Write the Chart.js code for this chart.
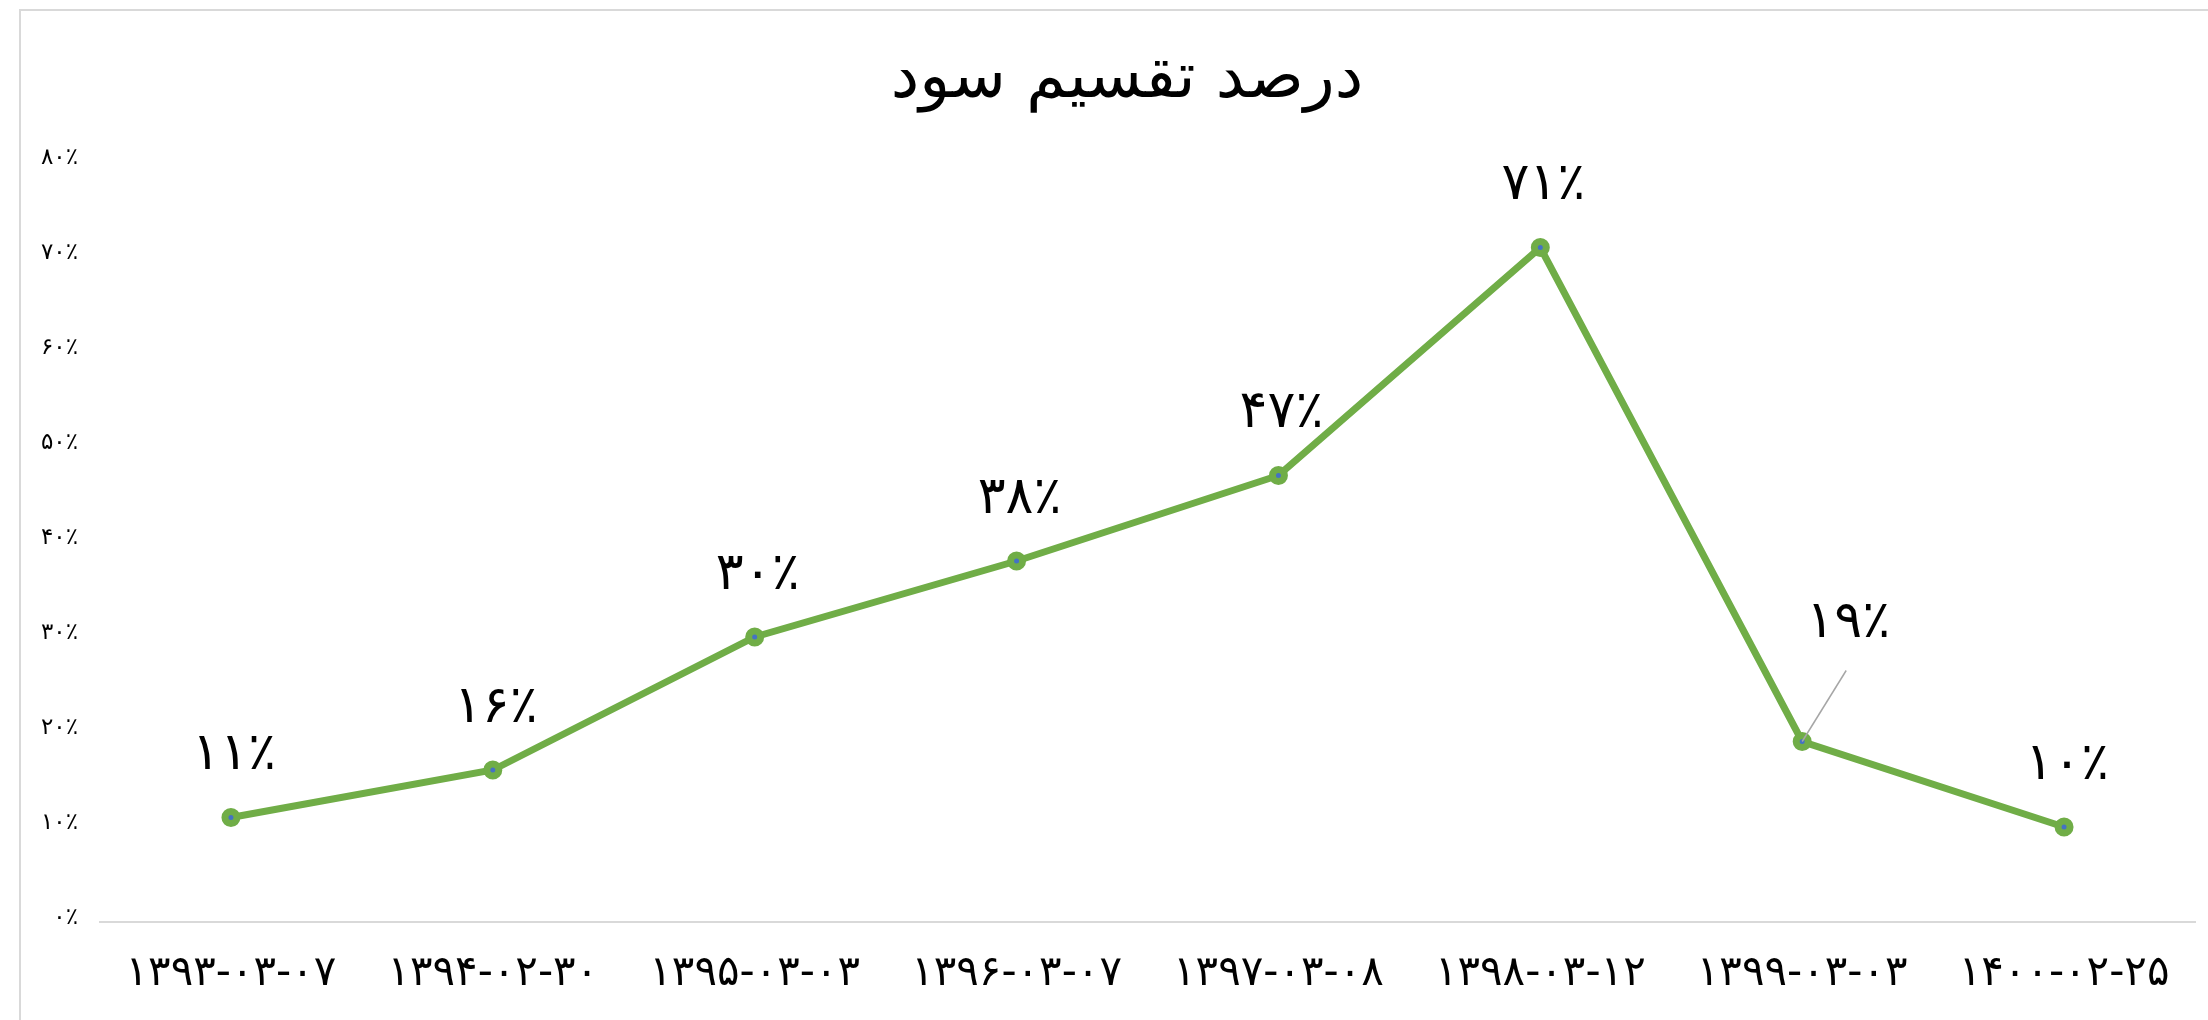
<!DOCTYPE html>
<html lang="fa">
<head>
<meta charset="utf-8">
<title>درصد تقسیم سود</title>
<script src="https://cdn.jsdelivr.net/npm/chart.js@4.4.1/dist/chart.umd.min.js"></script>
<style>
  html, body { margin: 0; padding: 0; background: #fff; overflow: hidden; }
  #frame {
    position: absolute; left: 19px; top: 9px; width: 2300px; height: 1100px;
    border-left: 2px solid #d9d9d9; border-top: 2px solid #d9d9d9;
  }
  #chart { position: absolute; left: 0; top: 0; }
</style>
</head>
<body>
<div id="frame"></div>
<canvas id="chart" width="2208" height="1020"></canvas>
<script>
// chart data
const chartTitle = 'درصد تقسیم سود';
const dates = ['1393-03-07', '1394-02-30', '1395-03-03', '1396-03-07',
               '1397-03-08', '1398-03-12', '1399-03-03', '1400-02-25'];
const payoutPercent = [11, 16, 30, 38, 47, 71, 19, 10];
const yTicks = [0, 10, 20, 30, 40, 50, 60, 70, 80];

const FONT = '"DejaVu Sans", sans-serif';

// convert latin digits to persian ones
function fa(str) {
  return String(str).replace(/[0-9]/g, d => '۰۱۲۳۴۵۶۷۸۹'[d]);
}

// title + value labels drawn on top of the chart
const labelsPlugin = {
  id: 'labels',
  afterDatasetsDraw(chart) {
    const ctx = chart.ctx;
    const meta = chart.getDatasetMeta(0);
    ctx.save();
    ctx.fillStyle = '#000';
    ctx.textAlign = 'center';
    ctx.textBaseline = 'middle';

    // title
    ctx.font = '64px ' + FONT;
    ctx.fillText(chartTitle, 1127, 80);

    ctx.font = '52px ' + FONT;
    meta.data.forEach((pt, i) => {
      let dx = 3, dy = -62;
      if (i === 6) {
        // this one sits off to the side with a leader line
        dx = 46; dy = -118;
        ctx.strokeStyle = '#a6a6a6';
        ctx.lineWidth = 1.5;
        ctx.beginPath();
        ctx.moveTo(pt.x + 44, pt.y - 71);
        ctx.lineTo(pt.x, pt.y);
        ctx.stroke();
      }
      ctx.fillText(fa(payoutPercent[i]) + '٪', pt.x + dx, pt.y + dy);
    });
    ctx.restore();
  }
};

new Chart(document.getElementById('chart'), {
  type: 'line',
  data: {
    labels: dates.map(fa),
    datasets: [{
      data: payoutPercent,
      borderColor: '#70ad47',
      borderWidth: 7,
      tension: 0,
      pointRadius: 6,
      pointBorderWidth: 7,
      pointBackgroundColor: '#4472c4',
      pointBorderColor: '#70ad47',
      clip: false
    }]
  },
  options: {
    responsive: false,
    animation: false,
    devicePixelRatio: 1,
    layout: { padding: { top: 162, right: -4, bottom: 0, left: 0 } },
    plugins: {
      legend: { display: false },
      tooltip: { enabled: false },
      title: { display: false }
    },
    scales: {
      x: {
        offset: true,
        grid: { display: false, drawTicks: false, offset: true },
        border: { display: true, color: '#d9d9d9', width: 2 },
        ticks: {
          color: '#000',
          font: { family: FONT, size: 42 },
          padding: 27,
          maxRotation: 0,
          autoSkip: false
        },
        afterFit(scale) {
          scale.height = 98;
          scale.paddingLeft = 0;
          scale.paddingRight = 0;
        }
      },
      y: {
        min: 0,
        max: 80,
        afterBuildTicks(scale) { scale.ticks = yTicks.map(v => ({ value: v })); },
        grid: { display: false, drawTicks: false },
        border: { display: false },
        ticks: {
          color: '#000',
          font: { family: FONT, size: 23 },
          padding: 22,
          labelOffset: -4,
          callback: v => fa(v) + '٪'
        },
        afterFit(scale) { scale.width = 100; }
      }
    }
  },
  plugins: [labelsPlugin]
});
</script>
</body>
</html>
